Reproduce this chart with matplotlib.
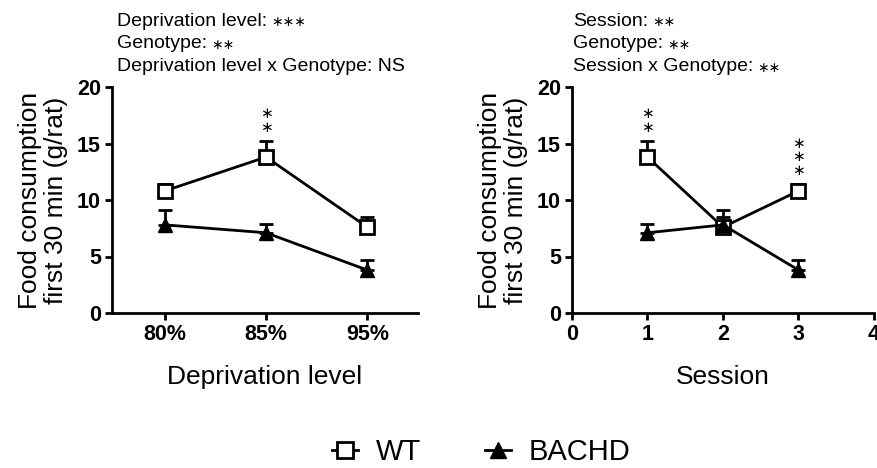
import matplotlib
matplotlib.use("Agg")
import matplotlib.pyplot as plt
from matplotlib.lines import Line2D
import numpy as np

plt.rcParams['font.family'] = ['Liberation Sans', 'DejaVu Sans']

# Panel A: deprivation level
levels = ["80%", "85%", "95%"]
wt_level = [10.8, 13.8, 7.6]
wt_level_err = [0.6, 1.4, 0.9]
bachd_level = [7.8, 7.1, 3.8]
bachd_level_err = [1.3, 0.8, 0.9]
level_sig = [0, 2, 0]

# Panel B: session
sessions = [1, 2, 3]
wt_sess = [13.8, 7.6, 10.8]
wt_sess_err = [1.4, 0.9, 0.6]
bachd_sess = [7.1, 7.8, 3.8]
bachd_sess_err = [0.8, 1.3, 0.9]
sess_sig = [2, 0, 3]

yticks = [0, 5, 10, 15, 20]
sess_ticks = [0, 1, 2, 3, 4]

titleA = [("Deprivation level:", 3), ("Genotype:", 2),
          ("Deprivation level x Genotype: NS", 0)]
titleB = [("Session:", 2), ("Genotype:", 2), ("Session x Genotype:", 2)]

W, H = 878, 468
fig = plt.figure(figsize=(W / 100, H / 100), dpi=100)

def px(x0, y0, x1, y1):
    return [x0 / W, 1 - y1 / H, (x1 - x0) / W, (y1 - y0) / H]

axA = fig.add_axes(px(112, 87, 418, 313))
axB = fig.add_axes(px(572, 87, 874, 313))

lw = 2.0
def draw(ax, x, wt, wte, ba, bae):
    ax.errorbar(x, wt, yerr=[np.zeros(len(wt)), wte], fmt='none', ecolor='black',
                elinewidth=lw, capsize=5, capthick=lw, zorder=2)
    ax.errorbar(x, ba, yerr=[np.zeros(len(ba)), bae], fmt='none', ecolor='black',
                elinewidth=lw, capsize=5, capthick=lw, zorder=2)
    ax.plot(x, wt, color='black', lw=lw, marker='s', ms=10, mfc='white', mec='black',
            mew=2, zorder=3)
    ax.plot(x, ba, color='black', lw=lw, marker='^', ms=10, mfc='black', mec='black',
            zorder=3)

xA = np.arange(len(levels))
draw(axA, xA, wt_level, wt_level_err, bachd_level, bachd_level_err)
draw(axB, sessions, wt_sess, wt_sess_err, bachd_sess, bachd_sess_err)

axA.set_xlim(-0.52, 2.5)
axA.set_xticks(xA)
axA.set_xticklabels(levels)
axB.set_xlim(0, 4)
axB.set_xticks(sess_ticks)

for ax in (axA, axB):
    ax.set_ylim(0, 20)
    ax.set_yticks(yticks)
    for s in ('top', 'right'):
        ax.spines[s].set_visible(False)
    for s in ('left', 'bottom'):
        ax.spines[s].set_linewidth(2)
    ax.tick_params(width=2, length=5, labelsize=15.5, pad=3)
    for lab in ax.get_xticklabels() + ax.get_yticklabels():
        lab.set_fontweight('bold')
    ax.set_ylabel("Food consumption\nfirst 30 min (g/rat)", fontsize=19, linespacing=1.1)
    ax.yaxis.set_label_coords(-0.145, 0.5)

axA.set_xlabel("Deprivation level", fontsize=19, labelpad=14)
axB.set_xlabel("Session", fontsize=19, labelpad=14)

# significance stars (stacked, above the error cap)
offsets_px = [14, 27.5, 41]
def stars(ax, xs, ys, es, ns):
    for x, y, e, n in zip(xs, ys, es, ns):
        for k in range(n):
            ax.annotate("\u2217", xy=(x, y + e), xytext=(0, offsets_px[k] * 0.72),
                        textcoords='offset points', ha='center', va='center',
                        fontsize=11, family='DejaVu Sans')

stars(axA, xA, wt_level, wt_level_err, level_sig)
stars(axB, sessions, wt_sess, wt_sess_err, sess_sig)

# header texts
renderer = fig.canvas.get_renderer()
for lines, x0 in ((titleA, 117), (titleB, 573)):
    for i, (t, n) in enumerate(lines):
        yy = 1 - (21 + 23 * i) / H
        tx = fig.text(x0 / W, yy, t, fontsize=14, ha='left', va='center')
        if n:
            bb = tx.get_window_extent(renderer)
            fig.text((bb.x1 + 4) / W, yy - 1 / H, "\u2217" * n, fontsize=10,
                     family='DejaVu Sans', ha='left', va='center')

handles = [
    Line2D([], [], color='black', lw=lw, marker='s', ms=11, mfc='white', mec='black', mew=2),
    Line2D([], [], color='black', lw=lw, marker='^', ms=11, mfc='black', mec='black'),
]
fig.legend(handles, ["WT", "BACHD"], loc='center', bbox_to_anchor=(0.548, 1 - 452 / H),
           ncol=2, frameon=False, fontsize=21, handlelength=0.9, handletextpad=0.6,
           columnspacing=2.2, borderpad=0.1)

fig.savefig("out.png", dpi=100)
